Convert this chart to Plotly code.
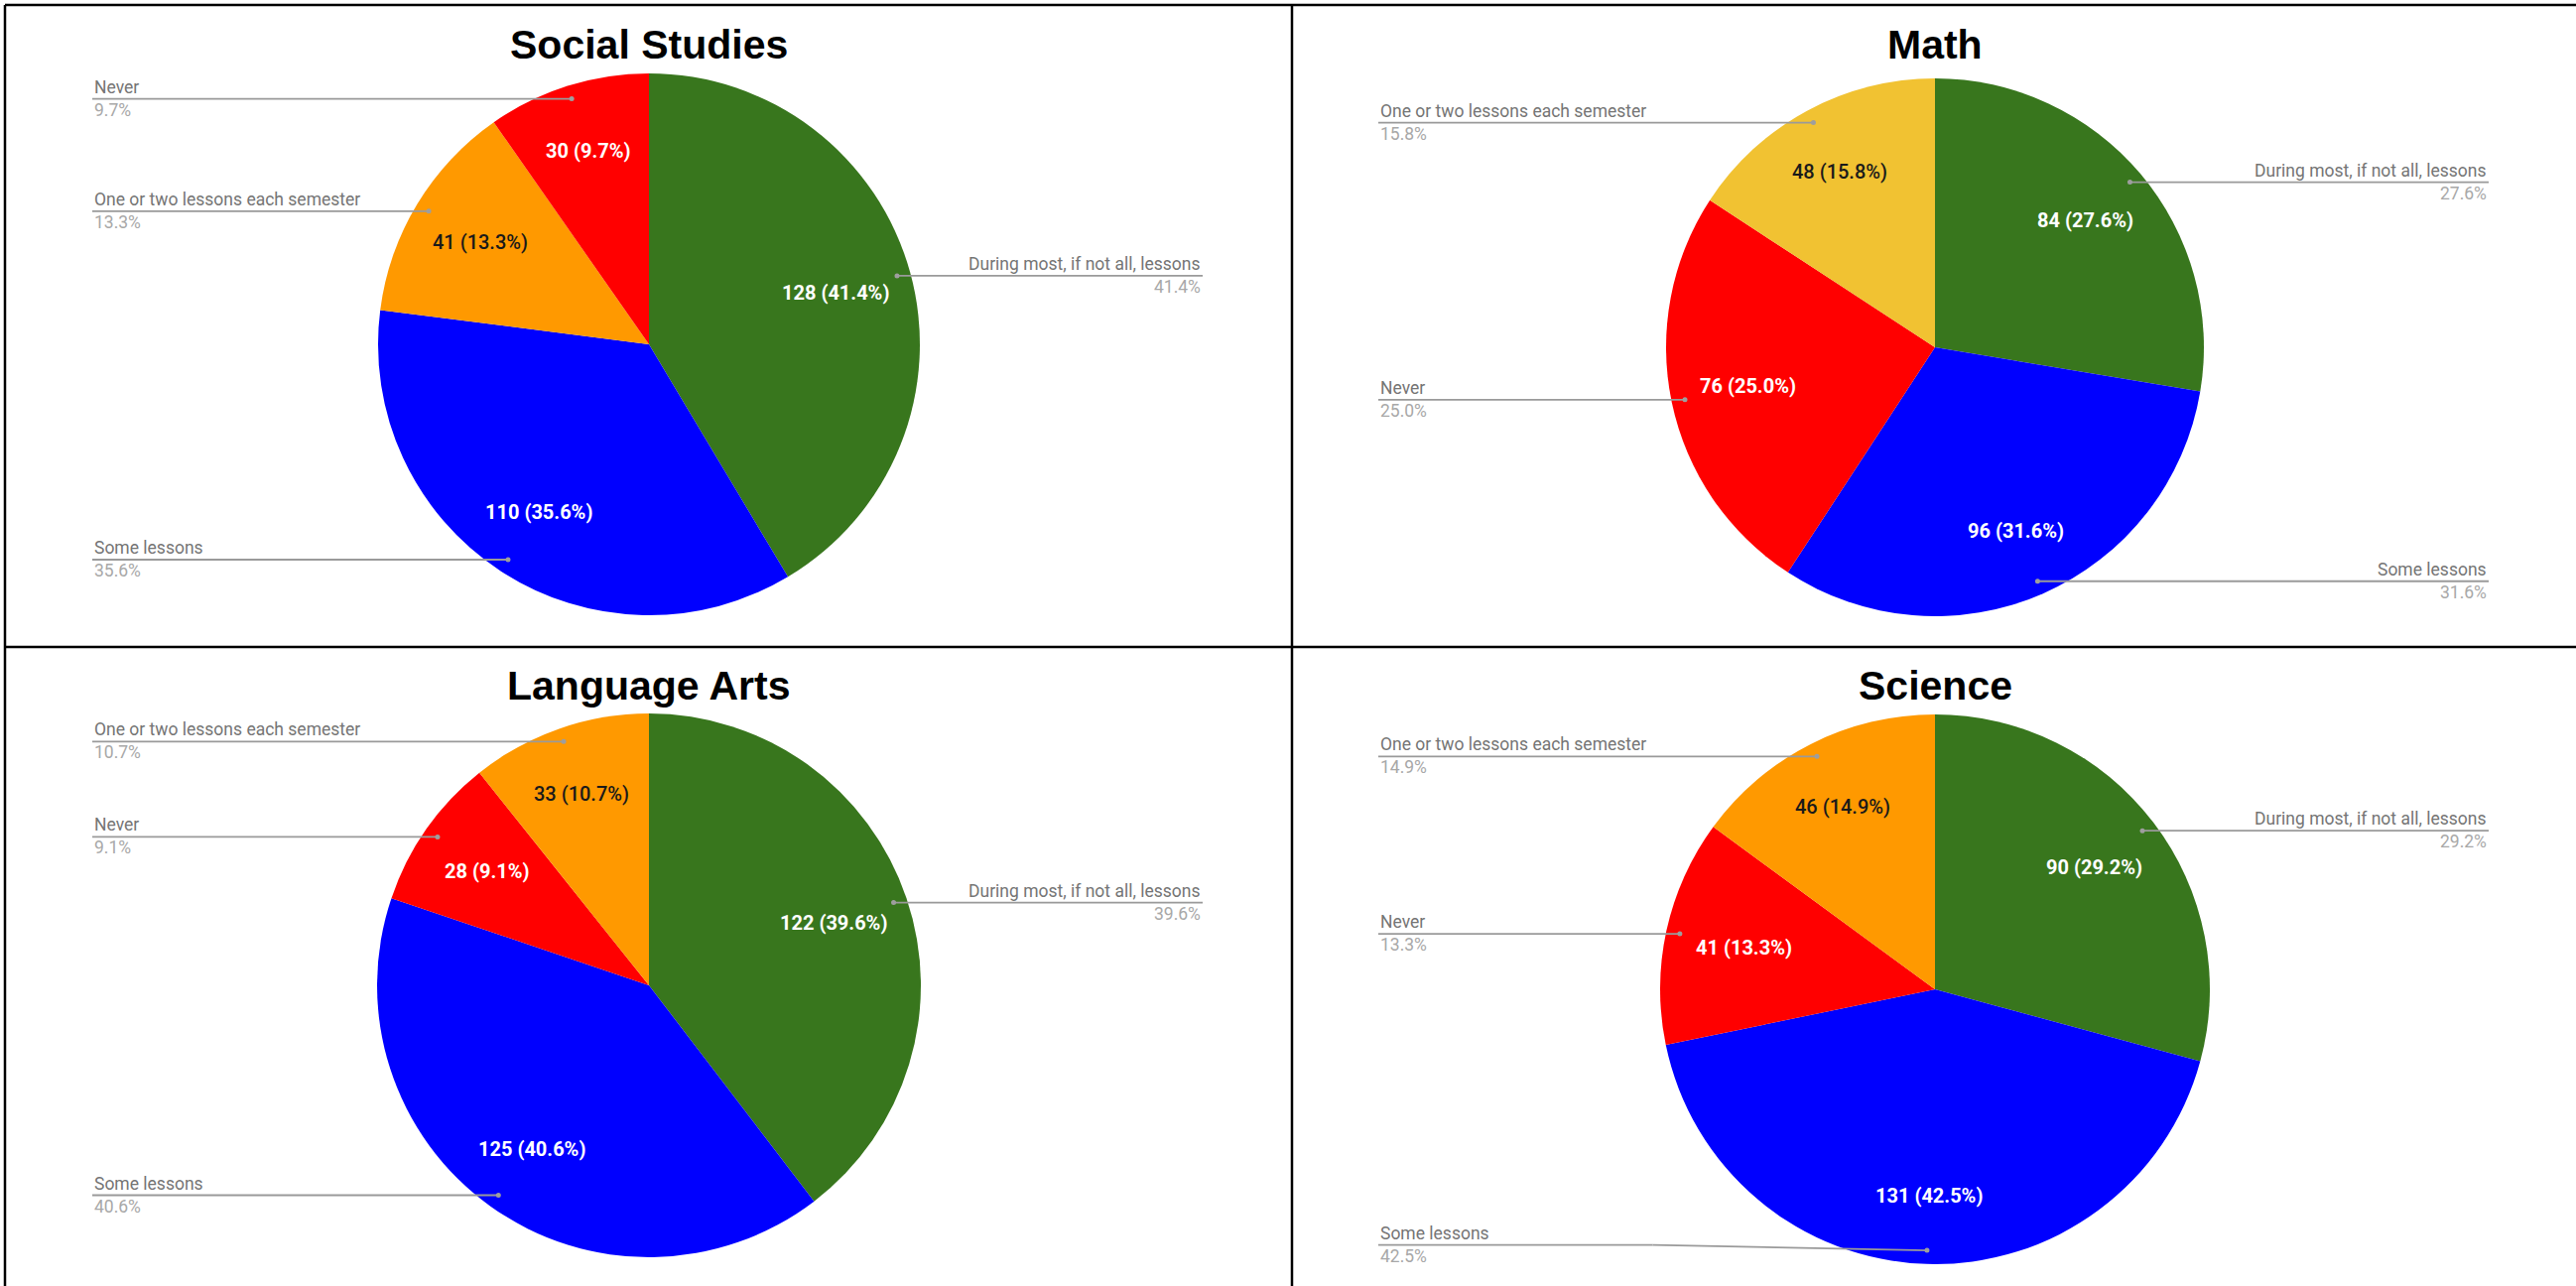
import math
import plotly.graph_objects as go

# data
subjects = ["Social Studies", "Math", "Language Arts", "Science"]

ss_labels = ["During most, if not all, lessons", "Some lessons",
             "One or two lessons each semester", "Never"]
ss_values = [128, 110, 41, 30]
ss_colors = ["#38761d", "#0000ff", "#ff9900", "#ff0000"]

math_labels = ["During most, if not all, lessons", "Some lessons",
               "Never", "One or two lessons each semester"]
math_values = [84, 96, 76, 48]
math_colors = ["#38761d", "#0000ff", "#ff0000", "#f1c232"]

la_labels = ["During most, if not all, lessons", "Some lessons",
             "Never", "One or two lessons each semester"]
la_values = [122, 125, 28, 33]
la_colors = ["#38761d", "#0000ff", "#ff0000", "#ff9900"]

sci_labels = ["During most, if not all, lessons", "Some lessons",
              "Never", "One or two lessons each semester"]
sci_values = [90, 131, 41, 46]
sci_colors = ["#38761d", "#0000ff", "#ff0000", "#ff9900"]

W, H = 2596, 1296

# pie centre / radius in pixels for each panel, title y
panels = [
    (ss_labels, ss_values, ss_colors, 654, 347, 273, 44.5),
    (math_labels, math_values, math_colors, 1950, 350, 271, 44.5),
    (la_labels, la_values, la_colors, 654, 993, 274, 690.5),
    (sci_labels, sci_values, sci_colors, 1950, 997, 277, 690.5),
]


def fx(x):
    return x / W


def fy(y):
    return 1 - y / H


fig = go.Figure()
annotations = []
shapes = []

for title, (labels, values, colors, cx, cy, r, ty) in zip(subjects, panels):
    fig.add_trace(go.Pie(
        labels=labels,
        values=values,
        marker=dict(colors=colors, line=dict(width=0)),
        sort=False,
        direction="clockwise",
        rotation=0,
        textinfo="none",
        domain=dict(x=[fx(cx - r), fx(cx + r)], y=[fy(cy + r), fy(cy - r)]),
        name=title,
    ))

    annotations.append(dict(
        x=fx(cx), y=fy(ty), xref="paper", yref="paper", text=title,
        showarrow=False, xanchor="center", yanchor="middle",
        font=dict(family="Arial, Liberation Sans, sans-serif", size=41,
                  color="#000000", weight="bold"),
    ))

    total = sum(values)
    cum = 0
    for lab, val, col in zip(labels, values, colors):
        frac = val / total
        mid = math.radians((cum + frac / 2) * 360)
        cum += frac
        pct = "%.1f%%" % (frac * 100)

        # text inside the slice
        k = 0.70 + 0.05 * abs(math.cos(mid))
        tx = cx + k * r * math.sin(mid)
        tyy = cy - k * r * math.cos(mid)
        dark = col in ("#ff9900", "#f1c232")
        annotations.append(dict(
            x=fx(tx), y=fy(tyy), xref="paper", yref="paper",
            text="%d (%s)" % (val, pct), showarrow=False,
            xanchor="center", yanchor="middle",
            font=dict(family="Roboto", size=20,
                      color="#1a1a1a" if dark else "#ffffff",
                      weight=500 if dark else "bold"),
        ))

        # leader line with label
        dx = cx + 0.95 * r * math.sin(mid)
        dy = cy - 0.95 * r * math.cos(mid)
        ly = min(max(dy, cy - 0.93 * r), cy + 0.93 * r)
        left = dx < cx
        ex = cx - 561 if left else cx + 558
        bx = dx - 0.5 * (dx - ex)
        line = dict(color="#9a9a9a", width=1.8)
        if abs(ly - dy) > 0.5:
            shapes.append(dict(type="line", xref="paper", yref="paper",
                               x0=fx(dx), y0=fy(dy), x1=fx(bx), y1=fy(ly),
                               line=line, layer="above"))
            shapes.append(dict(type="line", xref="paper", yref="paper",
                               x0=fx(bx), y0=fy(ly), x1=fx(ex), y1=fy(ly),
                               line=line, layer="above"))
        else:
            shapes.append(dict(type="line", xref="paper", yref="paper",
                               x0=fx(dx), y0=fy(ly), x1=fx(ex), y1=fy(ly),
                               line=line, layer="above"))
        shapes.append(dict(type="circle", xref="paper", yref="paper",
                           x0=fx(dx - 2.5), x1=fx(dx + 2.5),
                           y0=fy(dy + 2.5), y1=fy(dy - 2.5),
                           fillcolor="#9e9e9e", line=dict(width=0),
                           layer="above"))

        anchor = "left" if left else "right"
        annotations.append(dict(
            x=fx(ex), y=fy(ly - 12), xref="paper", yref="paper", text=lab,
            showarrow=False, xanchor=anchor, yanchor="middle",
            font=dict(family="Roboto", size=17.5, color="#757575"),
        ))
        annotations.append(dict(
            x=fx(ex), y=fy(ly + 11), xref="paper", yref="paper", text=pct,
            showarrow=False, xanchor=anchor, yanchor="middle",
            font=dict(family="Roboto", size=17.5, color="#a8a8a8"),
        ))

# panel borders
border = dict(color="#000000", width=2.5)
for x0, y0, x1, y1 in [(5, 5, 5, H), (5, 5, W, 5), (1302, 5, 1302, H), (5, 652, W, 652)]:
    shapes.append(dict(type="line", xref="paper", yref="paper",
                       x0=fx(x0), y0=fy(y0), x1=fx(x1), y1=fy(y1),
                       line=border, layer="above"))

fig.update_layout(
    width=W, height=H,
    margin=dict(l=0, r=0, t=0, b=0),
    paper_bgcolor="#ffffff",
    plot_bgcolor="#ffffff",
    showlegend=False,
    annotations=annotations,
    shapes=shapes,
)

# drop the default page margin so the figure sits at the window origin
fig.write_html("out.html", config={"displayModeBar": False},
               post_script="document.body.style.margin='0';")
